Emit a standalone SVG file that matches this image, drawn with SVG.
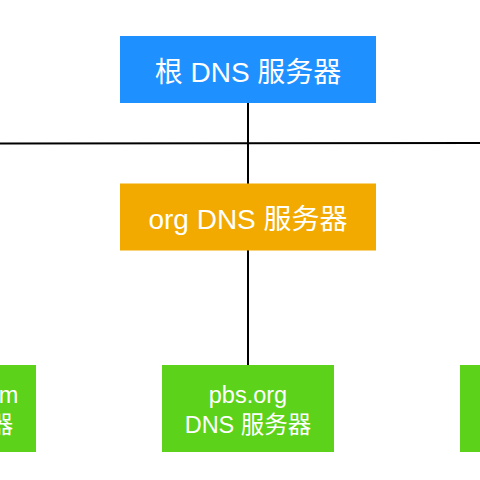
<svg xmlns="http://www.w3.org/2000/svg" width="480" height="480" viewBox="0 0 480 480">
<style>
.t{font-family:"Liberation Sans","Noto Sans CJK SC",sans-serif;fill:#fff;text-anchor:middle}
.big{font-size:28px}
.sm{font-size:23.5px}
.c{stroke:#000;stroke-width:2;fill:none}
</style>
<rect width="480" height="480" fill="#fff"/>
<g id="connectors">
<line class="c" x1="248" y1="102" x2="248" y2="184"/>
<line class="c" x1="0" y1="143.5" x2="480" y2="143"/>
<line class="c" x1="248" y1="250" x2="248" y2="366"/>
</g>
<g id="root">
<rect x="120" y="36" width="256" height="67" fill="#1E90FF"/>
<text class="t big" x="248" y="82">根 DNS 服务器</text>
</g>
<g id="org">
<rect x="120" y="183.5" width="256" height="67" fill="#F2AA00"/>
<text class="t big" x="248" y="229">org DNS 服务器</text>
</g>
<g id="amazon">
<rect x="-136" y="365" width="172" height="87" fill="#5CD21A"/>
<text class="t sm" x="-49" y="403">amazon.com</text>
<text class="t sm" x="-50" y="433">DNS 服务器</text>
</g>
<g id="pbs">
<rect x="162" y="365" width="172" height="87" fill="#5CD21A"/>
<text class="t sm" x="248" y="403">pbs.org</text>
<text class="t sm" x="248" y="433">DNS 服务器</text>
</g>
<g id="poly">
<rect x="460" y="365" width="172" height="87" fill="#5CD21A"/>
</g>
</svg>
